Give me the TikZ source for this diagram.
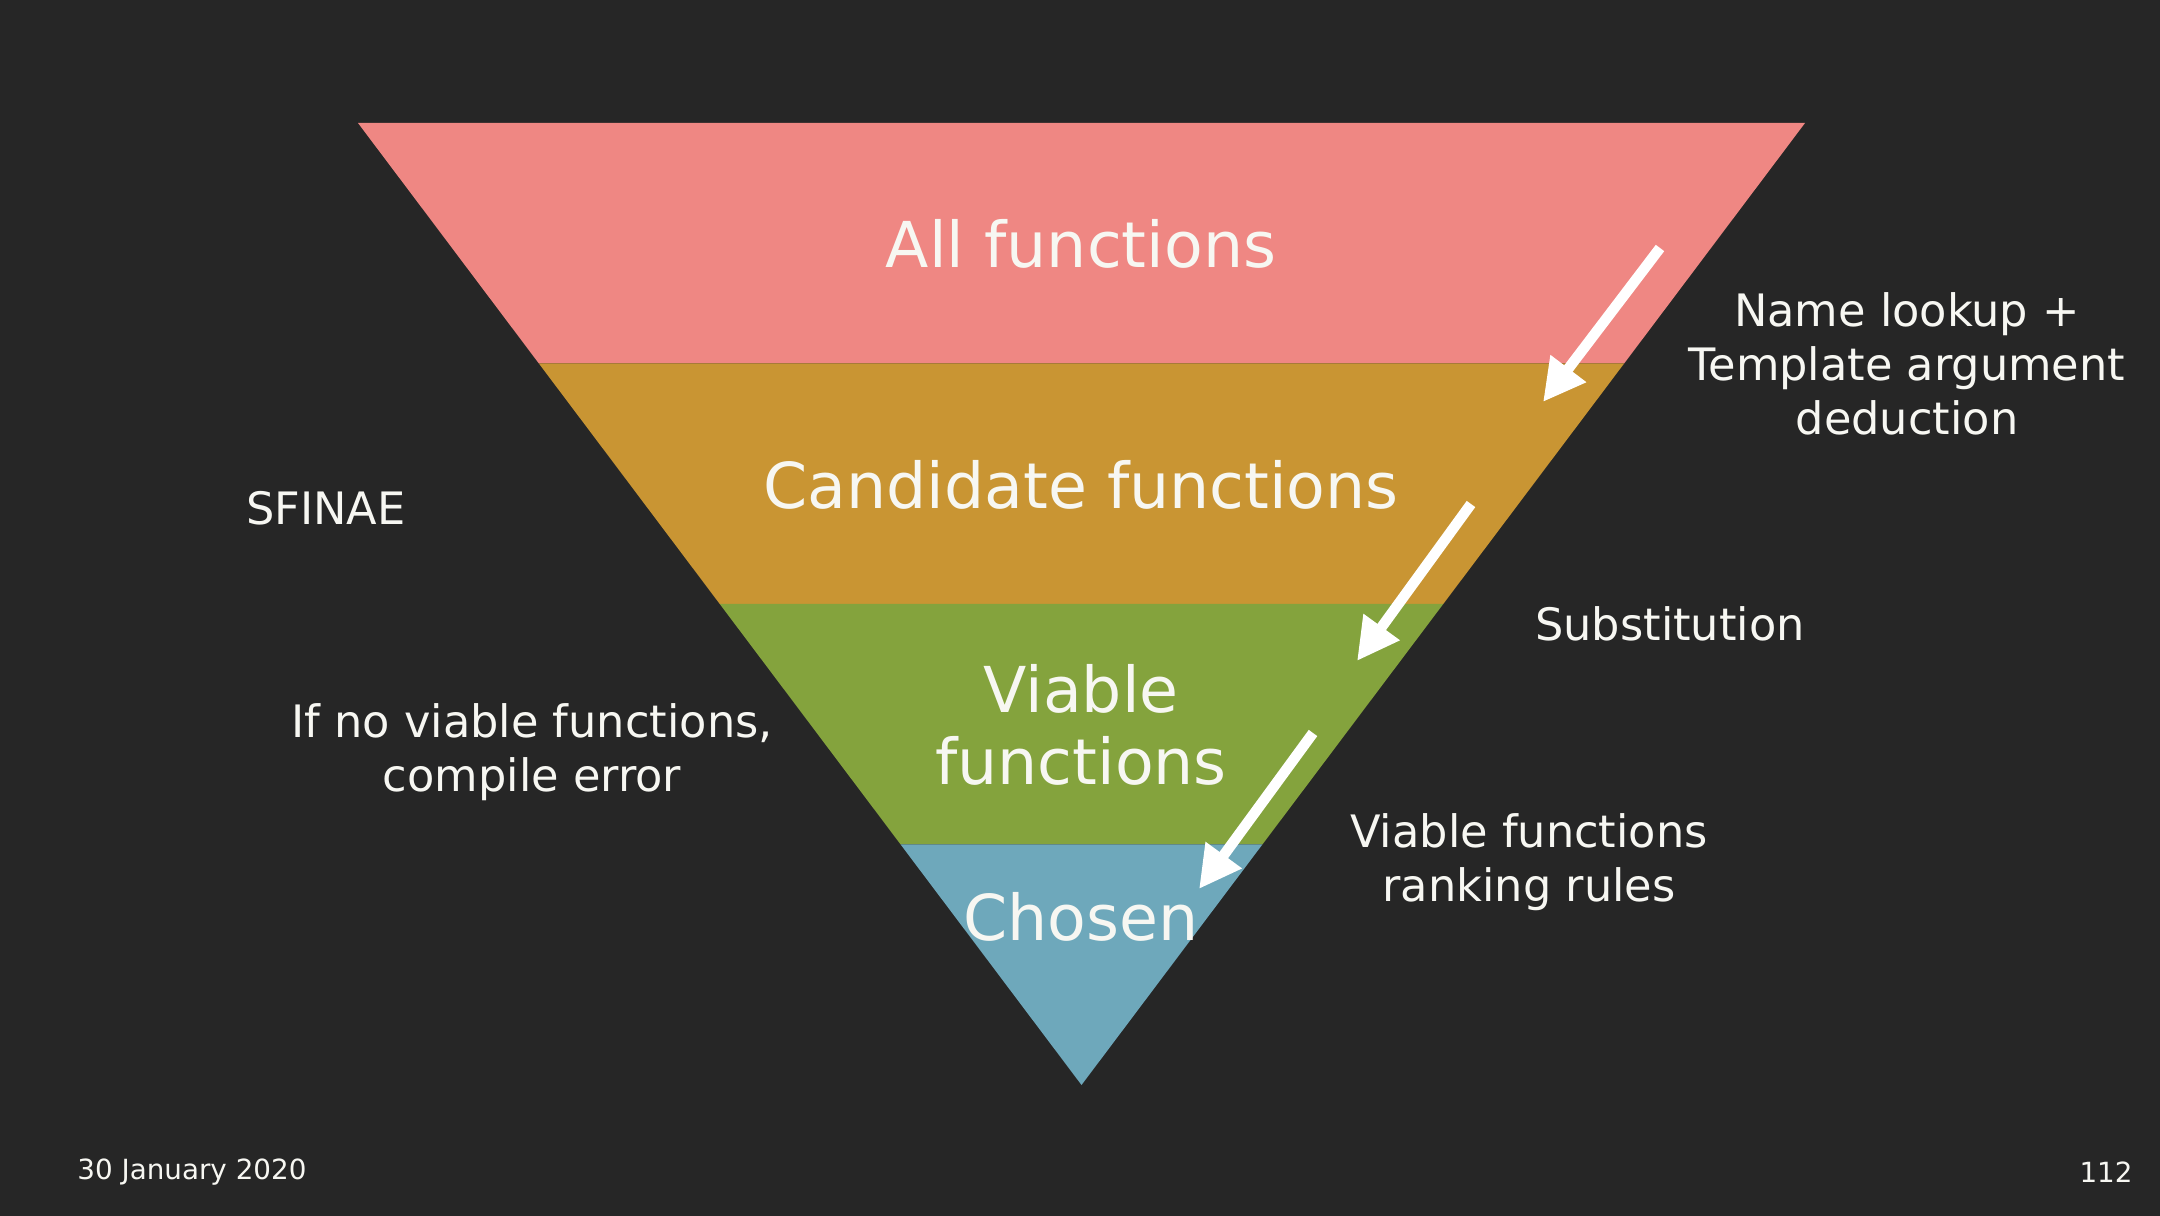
\documentclass[tikz,border=0pt]{standalone}
\usepackage{fontspec}
\setmainfont{DejaVu Sans}
\usetikzlibrary{calc,arrows.meta}
\definecolor{slidebg}{HTML}{262626}
\definecolor{bandall}{HTML}{EF8783}
\definecolor{bandcand}{HTML}{C99533}
\definecolor{bandviable}{HTML}{84A33D}
\definecolor{bandchosen}{HTML}{6EA8BB}
\definecolor{slidetext}{HTML}{F7F7F2}
\tikzset{
	bigtext/.style={text=slidetext,align=center,font=\fontsize{18}{20.5}\selectfont},
	sidetext/.style={text=slidetext,align=center,font=\fontsize{12.7}{15.4}\selectfont},
	foottext/.style={text=slidetext,font=\fontsize{7.9}{9}\selectfont},
	flow/.style={draw=white,line width=3pt,-{Triangle[length=0.42cm,width=0.42cm]}}
}
\begin{document}
\begin{tikzpicture}[x=0.01cm,y=-0.01cm]
			\fill[slidebg] (0,0) rectangle (2160,1216);
			\useasboundingbox (0,0) rectangle (2160,1216);
			
			\coordinate (tl) at (358,123);
			\coordinate (tr) at (1805,123);
			\coordinate (apex) at (1081.5,1085);
			
			\fill[bandall] (tl) -- (tr) -- ($(tr)!0.25!(apex)$) -- ($(tl)!0.25!(apex)$) -- cycle;
			\fill[bandcand] ($(tl)!0.25!(apex)$) -- ($(tr)!0.25!(apex)$) -- ($(tr)!0.5!(apex)$) -- ($(tl)!0.5!(apex)$) -- cycle;
			\fill[bandviable] ($(tl)!0.5!(apex)$) -- ($(tr)!0.5!(apex)$) -- ($(tr)!0.75!(apex)$) -- ($(tl)!0.75!(apex)$) -- cycle;
			\fill[bandchosen] ($(tl)!0.75!(apex)$) -- ($(tr)!0.75!(apex)$) -- (apex) -- cycle;
			
			\node[bigtext] (all) at (1081,244) {All functions};
			\node[bigtext] (cand) at (1081,485) {Candidate functions};
			\node[bigtext] (viable) at (1081,725) {Viable\\functions};
			\node[bigtext] (chosen) at (1081,917) {Chosen};
			
			\node[sidetext] (sfinae) at (326,508) {SFINAE};
			\node[sidetext] (noviable) at (532,752) {If no viable functions,\\compile error};
			\node[sidetext] (lookup) at (1907,364) {Name lookup +\\Template argument\\deduction};
			\node[sidetext] (subst) at (1670,624) {Substitution};
			\node[sidetext] (ranking) at (1529,862) {Viable functions\\ranking rules};
			
			\node[foottext,anchor=west] (date) at (65,1172) {30 January 2020};
			\node[foottext,anchor=east] (page) at (2145,1172) {112};
			
			\coordinate (lookupfrom) at (1660,248);
			\coordinate (lookupto) at (1543,402);
			\coordinate (substfrom) at (1471,504);
			\coordinate (substto) at (1357,661);
			\coordinate (rankfrom) at (1313,733);
			\coordinate (rankto) at (1199,889);
			
			\draw[flow] (lookupfrom) -- (lookupto);
			\draw[flow] (substfrom) -- (substto);
			\draw[flow] (rankfrom) -- (rankto);
		\end{tikzpicture}
\end{document}
